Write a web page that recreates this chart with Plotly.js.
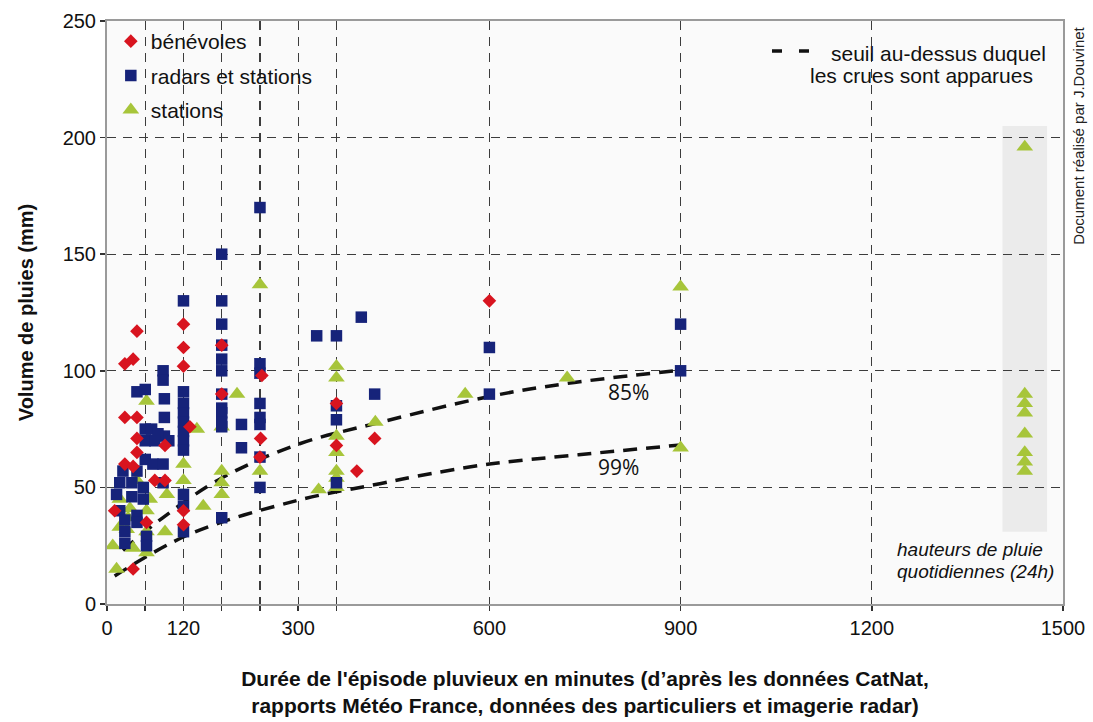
<!DOCTYPE html>
<html>
<head>
<meta charset="utf-8">
<script src="https://cdn.plot.ly/plotly-3.0.1.min.js"></script>
<style>html,body{margin:0;padding:0;background:#fff;}#chart{width:1093px;height:722px;}</style>
</head>
<body>
<div id="chart"></div>
<script>
// ---- Data ----
const benevolesX = [47, 28, 41, 120, 120, 120, 28, 47, 47, 91, 47, 28, 41, 91, 75, 12, 62, 41, 120, 120, 243, 241, 240, 360, 360, 420, 392, 600, 130, 180, 180];
const benevolesY = [117, 103, 105, 120, 110, 102, 80, 80, 71, 68, 65, 60, 59, 53, 53, 40, 35, 15, 40, 34, 98, 71, 63, 86, 68, 71, 57, 130, 76, 111, 90];

const radarsX = [240, 240, 240, 240, 240, 240, 240, 240,
  180, 180, 180, 180, 180, 180, 180, 180, 180, 180, 180, 180,
  120, 120, 120, 120, 120, 120, 120, 120, 120, 120, 120,
  211, 211, 329, 360, 399, 420, 360, 360, 360, 600, 600, 900, 900,
  88, 88, 47, 60, 90, 90, 90, 60, 70, 80, 97, 60, 75, 60, 25, 72, 88, 20, 39, 57, 88, 39, 57, 20, 47, 47, 28, 62, 28, 62, 15, 28, 47];
const radarsY = [170, 103, 99, 86, 80, 77, 63, 50,
  150, 130, 120, 111, 105, 100, 90, 84, 82, 78, 76, 37,
  130, 91, 86, 82, 78, 74, 70, 66, 47, 42, 31,
  77, 67, 115, 115, 123, 90, 85, 79, 52, 110, 90, 120, 100,
  100, 96, 91, 92, 88, 80, 72, 75, 75, 73, 70, 70, 70, 62, 57, 60, 60, 52, 52, 50, 52, 46, 45, 40, 38, 35, 31, 29, 26, 25, 47, 36, 57];

const stationsX = [9, 15, 20, 36, 20, 31, 41, 47, 62, 62, 62, 67, 94, 91, 62, 33, 120, 120, 141, 151, 204, 180, 180, 180, 180, 240, 240, 332,
  360, 360, 360, 360, 360, 360, 360, 421, 562, 722, 900, 900,
  1440, 1440, 1440, 1440, 1440, 1440, 1440, 1440];
const stationsY = [25, 15, 45, 41, 33, 32, 24, 53, 40, 31, 22, 45, 47, 31, 87, 37, 60, 53, 75, 42, 90, 76, 57, 52, 47, 137, 57, 49,
  102, 97, 72, 65, 57, 54, 50, 78, 90, 97, 136, 67,
  196, 90, 86, 82, 73, 65, 61, 57];

// threshold curves
const seuil85X = [25, 90, 180, 300, 430, 600, 720, 900];
const seuil85Y = [23, 37.5, 54, 68.5, 78, 89, 94.5, 100.3];
const seuil99X = [12, 130, 300, 430, 480, 600, 740, 900];
const seuil99Y = [12, 30, 44.5, 51.7, 54.5, 60, 64, 68.2];

const xTickVals = [0, 60, 120, 180, 240, 300, 360, 600, 900, 1200, 1500];
const xTickText = ['0', '', '120', '', '', '300', '', '600', '900', '1200', '1500'];
const yTickVals = [0, 50, 100, 150, 200, 250];

// ---- Styles ----
const FONT = 'Liberation Sans, Arial, sans-serif';
const RED = '#d8141f', BLUE = '#16237a', GREEN = '#a7c53a';

const traces = [
  {x: seuil85X, y: seuil85Y, mode: 'lines', line: {color: '#111', width: 3.5, dash: '14px,9px', shape: 'spline'}, showlegend: false, hoverinfo: 'skip'},
  {x: seuil99X, y: seuil99Y, mode: 'lines', line: {color: '#111', width: 3.5, dash: '14px,9px', shape: 'spline'}, showlegend: false, hoverinfo: 'skip'},
  {x: stationsX, y: stationsY, mode: 'markers', name: 'stations', legendgroup: 'c', legendrank: 3,
   marker: {symbol: 'triangle-up', size: 14.5, color: GREEN}},
  {x: radarsX, y: radarsY, mode: 'markers', name: 'radars et stations', legendgroup: 'b', legendrank: 2,
   marker: {symbol: 'square', size: 11.5, color: BLUE}},
  {x: benevolesX, y: benevolesY, mode: 'markers', name: 'bénévoles', legendgroup: 'a', legendrank: 1,
   marker: {symbol: 'diamond', size: 10.5, color: RED}}
];

const layout = {
  width: 1093, height: 722,
  margin: {l: 107, r: 30, t: 21, b: 118},
  paper_bgcolor: '#ffffff',
  plot_bgcolor: '#fafafa',
  font: {family: FONT, color: '#111', size: 20},
  showlegend: true,
  legend: {x: 0.004, y: 1.0, xanchor: 'left', yanchor: 'top', bgcolor: 'rgba(0,0,0,0)',
           font: {size: 21, family: FONT}, traceorder: 'grouped', tracegroupgap: 4},
  xaxis: {
    range: [0, 1500], tickvals: xTickVals, ticktext: xTickText,
    showgrid: true, gridcolor: '#3c3c3c', gridwidth: 1.2, griddash: '9px,7px',
    zeroline: false, showline: true, linecolor: '#9a9a9a', linewidth: 2, mirror: true,
    ticks: 'outside', ticklen: 5, tickcolor: '#333', tickwidth: 1.5,
    tickfont: {size: 20, family: FONT, color: '#111'},
    title: {text: "Durée de l'épisode pluvieux en minutes (d’après les données CatNat,<br>rapports Météo France, données des particuliers et imagerie radar)",
            font: {size: 21, family: FONT, weight: 'bold', color: '#111'}, standoff: 33}
  },
  yaxis: {
    range: [0, 250], tickvals: yTickVals,
    showgrid: true, gridcolor: '#3c3c3c', gridwidth: 1.2, griddash: '9px,7px',
    zeroline: false, showline: true, linecolor: '#9a9a9a', linewidth: 2, mirror: true,
    ticks: 'outside', ticklen: 5, tickcolor: '#333', tickwidth: 1.5,
    tickfont: {size: 20, family: FONT, color: '#111'},
    title: {text: 'Volume de pluies (mm)', font: {size: 20, family: FONT, weight: 'bold', color: '#111'}, standoff: 24}
  },
  shapes: [
    {type: 'rect', xref: 'x', yref: 'y', x0: 1405, x1: 1475, y0: 31, y1: 205,
     fillcolor: '#ebebeb', line: {width: 0}, layer: 'below'},
    {type: 'line', xref: 'paper', yref: 'paper', x0: 0.6956, x1: 0.7343, y0: 0.9485, y1: 0.9485,
     line: {color: '#111', width: 3.5, dash: '10px,17px'}}
  ],
  annotations: [
    {xref: 'paper', yref: 'paper', x: 0.9843, y: 0.945, xanchor: 'right', yanchor: 'middle', showarrow: false,
     text: 'seuil au-dessus duquel', font: {size: 21, family: FONT, color: '#111'}},
    {xref: 'paper', yref: 'paper', x: 0.9707, y: 0.9057, xanchor: 'right', yanchor: 'middle', showarrow: false,
     text: 'les crues sont apparues', font: {size: 21, family: FONT, color: '#111'}},
    {xref: 'paper', yref: 'paper', x: 1.0167, y: 0.803, xanchor: 'center', yanchor: 'middle', showarrow: false,
     textangle: -90, text: 'Document réalisé par J.Douvinet', font: {size: 15, family: FONT, color: '#222'}},
    {xref: 'paper', yref: 'paper', x: 0.8243, y: 0.0943, xanchor: 'left', yanchor: 'middle', showarrow: false,
     text: 'hauteurs de pluie', font: {size: 19, family: FONT, style: 'italic', color: '#111'}},
    {xref: 'paper', yref: 'paper', x: 0.8243, y: 0.0549, xanchor: 'left', yanchor: 'middle', showarrow: false,
     text: 'quotidiennes (24h)', font: {size: 19, family: FONT, style: 'italic', color: '#111'}},
    {xref: 'x', yref: 'y', x: 818, y: 91, showarrow: false, text: '85%',
     font: {size: 21, family: 'Open Sans, sans-serif', color: '#111'}},
    {xref: 'x', yref: 'y', x: 802, y: 58.7, showarrow: false, text: '99%',
     font: {size: 21, family: 'Open Sans, sans-serif', color: '#111'}}
  ]
};

Plotly.newPlot('chart', traces, layout, {displayModeBar: false, staticPlot: true});
</script>
</body>
</html>
